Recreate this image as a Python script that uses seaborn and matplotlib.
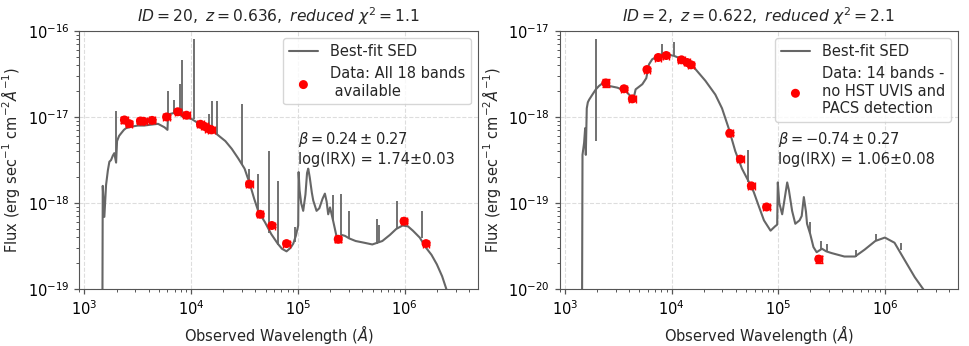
import numpy as np
import pandas as pd
import seaborn as sns
import matplotlib.pyplot as plt
from matplotlib.ticker import LogLocator, NullFormatter

# ---------------- galaxy ID 20 (left) ----------------
sed1_logwave = [3.168, 3.172, 3.187, 3.203, 3.22, 3.234, 3.25, 3.266, 3.28, 3.297,
                3.306, 3.325, 3.344, 3.37, 3.39, 3.42, 3.453, 3.50, 3.56, 3.62,
                3.69, 3.75, 3.778, 3.784, 3.82, 3.85, 3.90, 3.94, 4.0, 4.05,
                4.10, 4.15, 4.19, 4.25, 4.32, 4.38, 4.44, 4.50, 4.55, 4.59,
                4.63, 4.69, 4.75, 4.81, 4.85, 4.893, 4.93, 4.956, 4.98, 5.002,
                5.006, 5.015, 5.03, 5.049, 5.07, 5.085, 5.096, 5.11, 5.13, 5.143,
                5.174, 5.20, 5.23, 5.252, 5.268, 5.283, 5.30, 5.33, 5.36, 5.377,
                5.41, 5.44, 5.48, 5.54, 5.62, 5.696, 5.79, 5.86, 5.92, 5.98,
                6.03, 6.076, 6.14, 6.20, 6.25, 6.30, 6.35, 6.39, 6.42]
sed1_logflux = [-19.6, -17.80, -18.16, -17.79, -17.62, -17.52, -17.50, -17.45, -17.42, -17.53,
                -17.28, -17.22, -17.19, -17.15, -17.13, -17.12, -17.11, -17.10, -17.10, -17.09,
                -17.08, -17.12, -17.15, -16.97, -16.96, -16.95, -16.98, -17.01, -17.02, -17.06,
                -17.10, -17.13, -17.15, -17.21, -17.28, -17.37, -17.48, -17.60, -17.78, -17.95,
                -18.10, -18.22, -18.36, -18.47, -18.53, -18.56, -18.52, -18.47, -18.38, -18.26,
                -17.64, -17.85, -18.00, -18.09, -17.90, -17.65, -17.60, -17.70, -17.88, -17.97,
                -18.09, -18.06, -17.95, -17.89, -17.98, -18.13, -18.05, -18.21, -18.38, -18.44,
                -18.37, -18.38, -18.41, -18.44, -18.46, -18.48, -18.44, -18.37, -18.30, -18.26,
                -18.27, -18.32, -18.40, -18.52, -18.60, -18.71, -18.85, -19.00, -19.10]
# emission lines: position, base, peak (log)
lines1_logwave = [3.2986, 3.784, 3.843, 3.896, 3.912, 4.027, 4.165, 4.193, 4.243, 4.477,
                  4.546, 4.624, 4.727, 4.815, 4.97, 5.33, 5.40, 5.48, 5.737, 5.757,
                  5.924, 6.158]
lines1_base = [-17.50, -16.97, -16.96, -16.98, -16.98, -17.02, -17.14, -17.15, -17.20, -17.56,
               -17.78, -18.08, -18.35, -18.49, -18.45, -18.21, -18.37, -18.41, -18.47, -18.46,
               -18.30, -18.40]
lines1_peak = [-16.93, -16.70, -16.80, -16.62, -16.34, -16.10, -16.97, -16.81, -16.81, -16.85,
               -17.60, -17.66, -17.39, -17.74, -18.28, -17.91, -17.89, -18.09, -18.19, -18.25,
               -17.97, -18.09]
data1_logwave = [3.375, 3.42, 3.525, 3.553, 3.634, 3.77, 3.874, 3.956, 4.087, 4.125,
                 4.162, 4.19, 4.546, 4.646, 4.755, 4.893, 5.377, 5.993, 6.199]
data1_logflux = [-17.035, -17.078, -17.047, -17.05, -17.04, -17.0, -16.94, -16.98, -17.085, -17.11,
                 -17.137, -17.15, -17.78, -18.13, -18.26, -18.47, -18.42, -18.21, -18.47]
data1_dex = [0.03, 0.03, 0.02, 0.02, 0.02, 0.02, 0.02, 0.02, 0.02, 0.02,
             0.02, 0.02, 0.02, 0.02, 0.02, 0.02, 0.03, 0.02, 0.02]

# ---------------- galaxy ID 2 (right) ----------------
sed2_logwave = [3.160, 3.165, 3.18, 3.19, 3.196, 3.205, 3.215, 3.227, 3.258, 3.29,
                3.32, 3.352, 3.414, 3.492, 3.57, 3.617, 3.638, 3.663, 3.726, 3.763,
                3.788, 3.819, 3.85, 3.881, 3.944, 4.021, 4.10, 4.193, 4.255, 4.317,
                4.41, 4.473, 4.535, 4.598, 4.66, 4.723, 4.77, 4.816, 4.866, 4.928,
                4.97, 4.99, 4.996, 5.01, 5.037, 5.06, 5.084, 5.10, 5.13, 5.16,
                5.20, 5.22, 5.24, 5.26, 5.27, 5.30, 5.33, 5.36, 5.41, 5.45,
                5.50, 5.62, 5.72, 5.81, 5.91, 6.0, 6.09, 6.18, 6.28, 6.36, 6.40]
sed2_logflux = [-20.5, -18.44, -18.30, -18.13, -18.44, -17.90, -17.83, -17.80, -17.74, -17.68,
                -17.64, -17.61, -17.64, -17.66, -17.70, -17.76, -17.82, -17.68, -17.62, -17.55,
                -17.39, -17.33, -17.31, -17.28, -17.27, -17.29, -17.33, -17.40, -17.49, -17.58,
                -17.74, -17.90, -18.13, -18.40, -18.60, -18.75, -18.87, -19.03, -19.20, -19.32,
                -19.27, -19.25, -18.76, -19.00, -19.13, -18.95, -18.76, -18.85, -19.09, -19.24,
                -19.20, -19.15, -18.93, -19.10, -19.24, -19.36, -19.51, -19.57, -19.53, -19.56,
                -19.58, -19.62, -19.62, -19.54, -19.44, -19.40, -19.46, -19.65, -19.86, -20.00, -20.10]
lines2_logwave = [3.29, 3.906, 4.021, 4.72, 5.296, 5.401, 5.458, 5.729, 5.916, 6.153]
lines2_base = [-18.28, -17.28, -17.29, -18.75, -19.36, -19.55, -19.57, -19.62, -19.44, -19.55]
lines2_peak = [-17.10, -17.15, -17.135, -18.38, -19.22, -19.44, -19.48, -19.55, -19.36, -19.46]
data2_logwave = [3.383, 3.554, 3.632, 3.769, 3.875, 3.95, 4.093, 4.146, 4.183, 4.545,
                 4.645, 4.748, 4.891, 5.38]
data2_logflux = [-17.606, -17.673, -17.79, -17.45, -17.31, -17.287, -17.337, -17.368, -17.395, -18.19,
                 -18.49, -18.80, -19.045, -19.65]
data2_dex = [0.05, 0.02, 0.02, 0.02, 0.02, 0.02, 0.02, 0.02, 0.02, 0.02,
             0.02, 0.02, 0.02, 0.04]

xticks = [1e3, 1e4, 1e5, 1e6]

panels = [
    dict(sed=(sed1_logwave, sed1_logflux),
         lines=(lines1_logwave, lines1_base, lines1_peak),
         data=(data1_logwave, data1_logflux, data1_dex),
         ylim=(1e-19, 1e-16),
         yticks=[1e-19, 1e-18, 1e-17, 1e-16],
         title=r'$ID=20,\ z=0.636,\ reduced\ \chi^2=1.1$',
         label='Data: All 18 bands\n available',
         note=r'$\beta=0.24\pm0.27$' + '\nlog(IRX) = 1.74\u00b10.03',
         pos=[0.0815, 0.164, 0.4118, 0.747]),
    dict(sed=(sed2_logwave, sed2_logflux),
         lines=(lines2_logwave, lines2_base, lines2_peak),
         data=(data2_logwave, data2_logflux, data2_dex),
         ylim=(1e-20, 1e-17),
         yticks=[1e-20, 1e-19, 1e-18, 1e-17],
         title=r'$ID=2,\ z=0.622,\ reduced\ \chi^2=2.1$',
         label='Data: 14 bands -\nno HST UVIS and\nPACS detection',
         note=r'$\beta=-0.74\pm0.27$' + '\nlog(IRX) = 1.06\u00b10.08',
         pos=[0.5774, 0.164, 0.4113, 0.747]),
]

sns.set_style('ticks')
plt.rcParams['font.family'] = ['DejaVu Sans']
plt.rcParams['mathtext.fontset'] = 'dejavusans'

fig = plt.figure(figsize=(9.69, 3.46), dpi=100)
line_color = '#666666'

for p in panels:
    ax = fig.add_axes(p['pos'])
    sed = pd.DataFrame({'wave': 10 ** np.array(p['sed'][0]),
                        'flux': 10 ** np.array(p['sed'][1])})
    sns.lineplot(data=sed, x='wave', y='flux', ax=ax, color=line_color,
                 lw=1.5, sort=False, estimator=None, label='Best-fit SED')
    lw, lb, lp = p['lines']
    ax.vlines(10 ** np.array(lw), 10 ** np.array(lb), 10 ** np.array(lp),
              color=line_color, lw=1.3)

    dx, dy, de = (np.array(v) for v in p['data'])
    x = 10 ** dx
    y = 10 ** dy
    xerr = [x - x / 10 ** 0.03, x * 10 ** 0.03 - x]
    yerr = [y - y / 10 ** de, y * 10 ** de - y]
    ax.errorbar(x, y, xerr=xerr, yerr=yerr, fmt='none', ecolor='red',
                elinewidth=1.5, capsize=3, zorder=4)
    pts = pd.DataFrame({'wave': x, 'flux': y})
    sns.scatterplot(data=pts, x='wave', y='flux', ax=ax, color='red', s=42,
                    edgecolor='none', zorder=5, label=p['label'])

    ax.set_xscale('log')
    ax.set_yscale('log')
    ax.set_xticks(xticks)
    ax.set_yticks(p['yticks'])
    ax.set_xlim(890, 4.85e6)
    ax.set_ylim(*p['ylim'])
    for axis in (ax.xaxis, ax.yaxis):
        axis.set_minor_locator(LogLocator(base=10, subs=np.arange(2, 10), numticks=20))
        axis.set_minor_formatter(NullFormatter())
    ax.grid(True, which='major', ls='--', color='#dddddd', lw=0.8)
    for s in ax.spines.values():
        s.set_color('#555555')
    ax.tick_params(which='major', length=3.5, width=0.9, colors='#555555',
                   labelcolor='black', labelsize=10.5)
    ax.tick_params(which='minor', length=2, width=0.7, colors='#555555')

    ax.set_title(p['title'], fontsize=11.2)
    ax.set_xlabel(r'Observed Wavelength ($\AA$)', fontsize=10.5)
    ax.set_ylabel(r'Flux (erg sec$^{-1}$ cm$^{-2}$$\AA^{-1}$)', fontsize=10.5)
    ax.text(0.548, 0.615, p['note'], transform=ax.transAxes, va='top',
            fontsize=10.5)
    ax.legend(loc='upper right', fontsize=10.5, framealpha=0.8,
              edgecolor='#cccccc')

fig.savefig('out.png', dpi=100)
